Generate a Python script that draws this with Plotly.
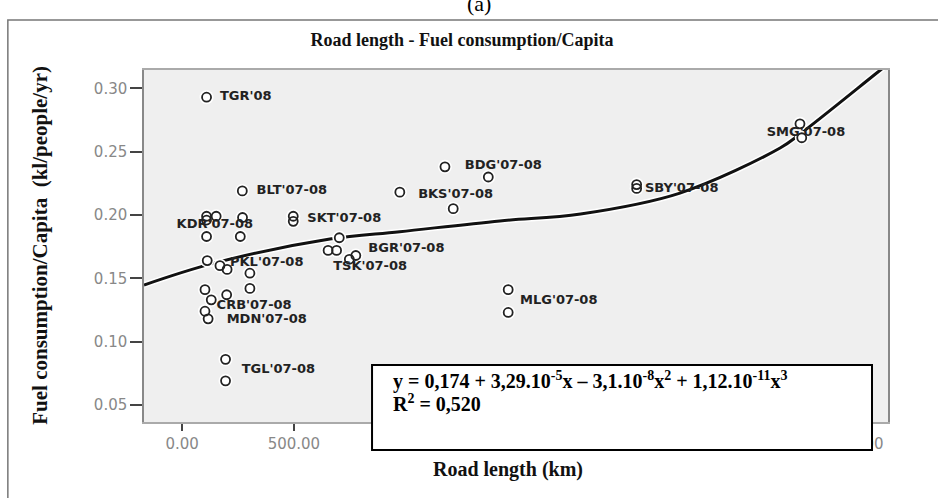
import plotly.graph_objects as go

# road length (km) vs fuel consumption per capita (kl/people/yr)
road_km = [109, 269, 109, 109, 152, 270, 109, 260, 497, 497,
           112, 169, 201, 303, 303, 102, 130, 199, 102, 116,
           194, 194, 1176, 1370, 974, 1213, 703, 653, 691, 777,
           748, 1459, 1459, 2034, 2034, 2765, 2773]
fuel_cap = [0.293, 0.219, 0.199, 0.196, 0.199, 0.198, 0.183, 0.183, 0.199, 0.195,
            0.164, 0.160, 0.157, 0.154, 0.142, 0.141, 0.133, 0.137, 0.124, 0.118,
            0.086, 0.069, 0.238, 0.230, 0.218, 0.205, 0.182, 0.172, 0.172, 0.168,
            0.165, 0.141, 0.123, 0.224, 0.221, 0.272, 0.261]

# case labels and where their text starts
label_text = ["TGR'08", "BLT'07-08", "KDR'07-08", "SKT'07-08", "PKL'07-08",
              "CRB'07-08", "MDN'07-08", "TGL'07-08", "BGR'07-08", "TSK'07-08",
              "BDG'07-08", "BKS'07-08", "MLG'07-08", "SBY'07-08", "SMG'07-08"]
label_x = [169, 333, -25, 560, 214, 154, 199, 266, 833, 676, 1265, 1056, 1512, 2071, 2616]
label_y = [0.293, 0.219, 0.192, 0.197, 0.162, 0.128, 0.117, 0.078, 0.173, 0.159,
           0.239, 0.216, 0.132, 0.221, 0.265]

# cubic fit line
fit_x = [-171, 139, 661, 974, 1422, 1783, 2228, 2676, 2765, 3114, 3213]
fit_y = [0.1447, 0.1618, 0.1810, 0.1868, 0.1953, 0.2008, 0.2173, 0.2529, 0.2639, 0.3129, 0.3268]

x_ticks = [0, 500, 1000, 1500, 2000, 2500, 3000]
y_ticks = [0.05, 0.10, 0.15, 0.20, 0.25, 0.30]

serif = "Liberation Serif"
sans = "DejaVu Sans"

fig = go.Figure()

# white halo under the line, then the line
fig.add_trace(go.Scatter(x=fit_x, y=fit_y, mode="lines",
                         line=dict(color="white", width=6, shape="spline", smoothing=1.0),
                         hoverinfo="skip"))
fig.add_trace(go.Scatter(x=fit_x, y=fit_y, mode="lines",
                         line=dict(color="#111", width=3, shape="spline", smoothing=1.0)))

# white halo behind each circle
fig.add_trace(go.Scatter(x=road_km, y=fuel_cap, mode="markers",
                         marker=dict(symbol="circle", size=14, color="white"),
                         hoverinfo="skip"))
fig.add_trace(go.Scatter(x=road_km, y=fuel_cap, mode="markers",
                         marker=dict(symbol="circle-open", size=9, color="#222",
                                     line=dict(color="#222", width=1.8))))

fig.add_trace(go.Scatter(x=label_x, y=label_y, mode="text", text=label_text,
                         textposition="middle right",
                         textfont=dict(family=sans, size=13, color="#222", weight="bold")))

fig.update_xaxes(range=[-171, 3159], tickvals=x_ticks, tickformat=".2f",
                 ticks="outside", ticklen=7, tickwidth=2, tickcolor="#444",
                 tickfont=dict(family=sans, size=15, color="#888"),
                 showgrid=False, zeroline=False, showline=True, linecolor="#aaa",
                 linewidth=1.5, mirror=True)
fig.update_yaxes(range=[0.0365, 0.3145], tickvals=y_ticks, tickformat=".2f",
                 ticks="outside", ticklen=12, tickwidth=1.5, tickcolor="#444",
                 tickfont=dict(family=sans, size=15, color="#888"),
                 showgrid=False, zeroline=False, showline=True, linecolor="#888",
                 linewidth=1.5, mirror=True)

# axis titles
fig.add_annotation(xref="paper", yref="paper", x=0.489, y=-0.136, showarrow=False,
                   text="<b>Road length (km)</b>", xanchor="center", yanchor="middle",
                   font=dict(family=serif, size=20, color="#111"))
fig.add_annotation(xref="paper", yref="paper", x=-0.14, y=0.503, showarrow=False,
                   text="<b>Fuel consumption/Capita  (kl/people/yr)</b>", textangle=-90,
                   xanchor="center", yanchor="middle",
                   font=dict(family=serif, size=21, color="#111"))

# outer frame around the panel
fig.add_shape(type="rect", xref="paper", yref="paper",
              x0=-0.183, x1=1.08, y0=-0.3, y1=1.142,
              line=dict(color="#777", width=1.5), fillcolor="rgba(0,0,0,0)", layer="below")

# equation box
fig.add_shape(type="rect", xref="paper", yref="paper",
              x0=0.3065, x1=0.9785, y0=-0.0795, y1=0.162,
              line=dict(color="#000", width=2), fillcolor="white", layer="above")
fig.add_annotation(xref="paper", yref="paper", x=0.332, y=0.119,
                   xanchor="left", yanchor="middle", align="left", showarrow=False,
                   text="<b>y = 0,174 + 3,29.10<sup>-5</sup>x – 3,1.10<sup>-8</sup>x<sup>2</sup>"
                        " + 1,12.10<sup>-11</sup>x<sup>3</sup></b>",
                   font=dict(family=serif, size=20, color="#000"))
fig.add_annotation(xref="paper", yref="paper", x=0.332, y=0.055,
                   xanchor="left", yanchor="middle", align="left", showarrow=False,
                   text="<b>R<sup>2</sup> = 0,520</b>",
                   font=dict(family=serif, size=20, color="#000"))

fig.add_annotation(xref="paper", yref="paper", x=0.45, y=1.19, showarrow=False,
                   text="(a)", font=dict(family=serif, size=22, color="#000"),
                   yanchor="middle")

fig.update_layout(
    width=938, height=498,
    margin=dict(l=144, r=50, t=70, b=76),
    paper_bgcolor="white", plot_bgcolor="#efefef",
    showlegend=False,
    title=dict(text="<b>Road length - Fuel consumption/Capita</b>",
               font=dict(family=serif, size=18, color="#111"),
               x=0.4925, xanchor="center", y=0.92, yanchor="middle"),
)

# drop the default body margin so the figure sits at the window corner
fig.write_html("out.html", config={"displayModeBar": False},
               post_script="document.body.style.margin = '0';")
